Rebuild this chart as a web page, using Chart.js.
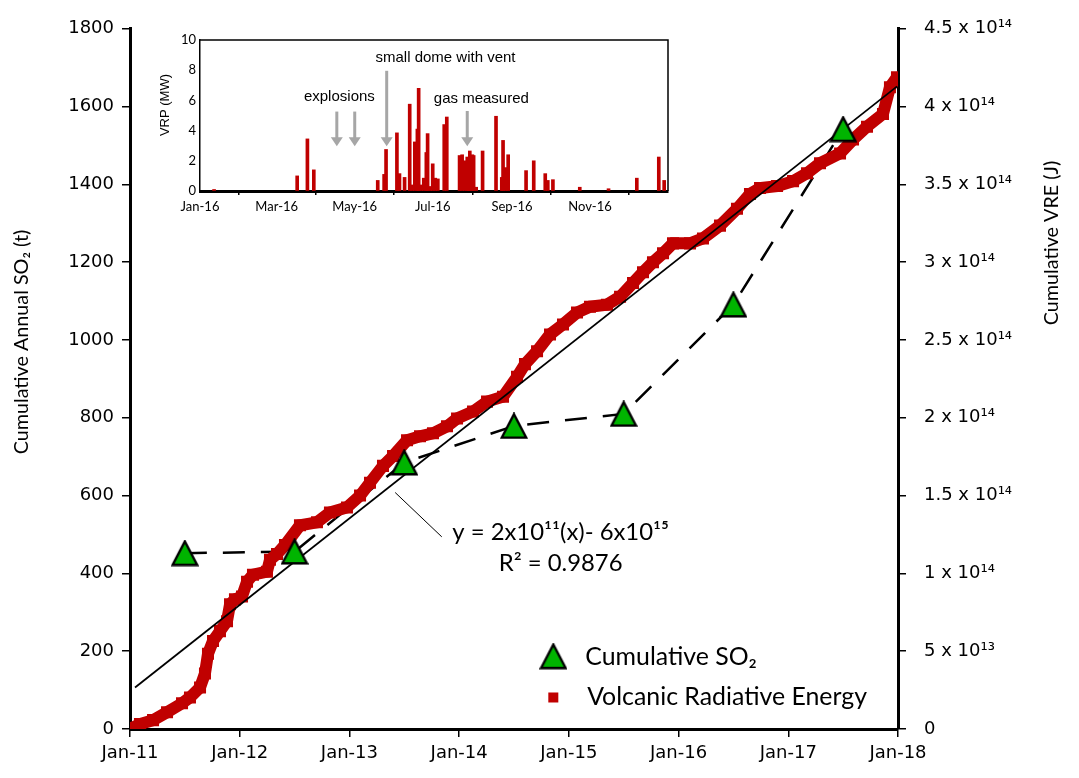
<!DOCTYPE html>
<html><head><meta charset="utf-8">
<script src="https://cdn.jsdelivr.net/npm/chart.js@4.4.1/dist/chart.umd.min.js"></script>
<style>
html,body{margin:0;padding:0;background:#fff;}
#wrap{position:relative;width:1079px;height:778px;overflow:hidden;}
#main{position:absolute;left:0;top:0;}
#inset{position:absolute;left:140px;top:25px;}
</style></head><body>
<div id="wrap"><canvas id="main" width="1079" height="778"></canvas><canvas id="inset" width="540" height="200"></canvas></div>
<script>
// ---- DATA (x = months since Jan-2011) ----
const so2Months = [6, 18, 30, 42, 54, 66, 78];
const so2Values = [452, 456, 685, 779, 810, 1091, 1542];           // t
const vreMonths = [0.22,1.09,2.52,4.05,5.69,6.56,7.66,8.20,8.53,9.08,9.84,10.61,10.94,11.48,12.25,12.80,13.45,14.98,15.31,16.08,16.95,18.59,20.45,21.87,23.73,25.16,26.25,27.67,28.77,30.30,31.72,33.14,34.67,35.77,37.52,39.05,40.80,42.33,43.20,44.52,45.94,47.36,48.89,50.31,52.17,53.60,55.02,56.11,57.20,58.30,59.39,61.25,62.67,64.53,66.39,67.81,68.91,70.77,72.52,74.05,75.47,77.66,79.08,80.61,82.36,83.12,83.89];
const vreValues = [0.006,0.032,0.057,0.108,0.165,0.203,0.267,0.356,0.483,0.566,0.629,0.693,0.801,0.833,0.852,0.947,0.992,1.011,1.087,1.125,1.182,1.309,1.328,1.392,1.424,1.500,1.583,1.691,1.754,1.856,1.881,1.900,1.945,1.996,2.040,2.104,2.136,2.263,2.345,2.428,2.536,2.600,2.676,2.714,2.727,2.778,2.867,2.936,3.000,3.057,3.121,3.121,3.153,3.235,3.343,3.439,3.477,3.489,3.521,3.572,3.636,3.699,3.788,3.871,3.953,4.125,4.189]; // x 10^14 J
const trendMonths = [0.55, 83.9];
const trendValues = [0.267, 4.13];   // x 10^14 J
const xTickLabels = ['Jan-11','Jan-12','Jan-13','Jan-14','Jan-15','Jan-16','Jan-17','Jan-18'];
const leftTickLabels = ['0','200','400','600','800','1000','1200','1400','1600','1800'];
const rightTickLabels = ['0','5 x 10¹³','1 x 10¹⁴','1.5 x 10¹⁴','2 x 10¹⁴','2.5 x 10¹⁴','3 x 10¹⁴','3.5 x 10¹⁴','4 x 10¹⁴','4.5 x 10¹⁴'];

// inset (x = day of 2016)
const vrpDays = [11,76,84,89,139,144,145.5,154,156,160,164,166,168,170,171,173,175,177,178,180,182,184,186,191,193,203,205,207,209,210,211,213,214,216,221,231.5,236,237,239,241,255,261,270,272,276,297,319.5,341.6,358.8,363];
const vrpValues = [0.1,1.0,3.45,1.4,0.7,1.1,2.75,3.85,1.15,0.9,5.75,0.4,3.25,4.1,6.8,0.4,0.85,2.55,3.8,0.3,1.8,0.85,0.8,4.4,4.9,2.35,2.4,2.0,2.25,0.3,2.65,2.4,2.35,0.25,2.65,4.95,0.9,3.35,1.55,2.4,1.35,2.0,1.15,0.7,0.75,0.25,0.15,0.85,2.25,0.7];
const insetTickDays = [0, 60, 121, 182, 244, 305];
const insetTickLabels = ['Jan-16','Mar-16','May-16','Jul-16','Sep-16','Nov-16'];
const arrowDays = [107, 121, 146, 209];
const arrowTops = [5.26, 5.26, 7.96, 5.3];

const RED = '#c00000', GREEN = '#00b400';
const TICKFONT = {family:'DejaVu Sans', size:18};
const CAL = "Lato, 'Noto Sans', sans-serif";

function makeTri(w, h, lw){
  const c = document.createElement('canvas'); c.width = w; c.height = h;
  const g = c.getContext('2d');
  const p = lw/2 + 0.5;
  g.beginPath(); g.moveTo(w/2, p); g.lineTo(w - p, h - p); g.lineTo(p, h - p); g.closePath();
  g.fillStyle = GREEN; g.fill(); g.lineWidth = lw; g.strokeStyle = '#000'; g.lineJoin = 'miter'; g.stroke();
  return c;
}
const tri = makeTri(28, 27, 2.4);

function fitFont(ctx, text, width, family){
  ctx.font = '100px ' + family;
  const w = ctx.measureText(text).width;
  return 100 * width / w;
}

const overlay = {
  id: 'overlay',
  afterDraw(chart){
    const ctx = chart.ctx, x = chart.scales.x, y = chart.scales.y;
    ctx.save();
    // pointer line
    ctx.strokeStyle = '#000'; ctx.lineWidth = 1;
    ctx.beginPath();
    ctx.moveTo(x.getPixelForValue(29.0), y.getPixelForValue(608));
    ctx.lineTo(x.getPixelForValue(34.1), y.getPixelForValue(494));
    ctx.stroke();
    // equation
    ctx.fillStyle = '#000'; ctx.textAlign = 'center'; ctx.textBaseline = 'middle';
    const eq1 = 'y = 2x10¹¹(x)- 6x10¹⁵', eq2 = 'R² = 0.9876';
    const fs = fitFont(ctx, eq2, 124, CAL);
    ctx.font = fs + 'px ' + CAL;
    ctx.fillText(eq1, x.getPixelForValue(47.1), y.getPixelForValue(506));
    ctx.fillText(eq2, x.getPixelForValue(47.1), y.getPixelForValue(427));
    // legend
    const lx = x.getPixelForValue(46.3);
    const ly1 = y.getPixelForValue(187), ly2 = y.getPixelForValue(81);
    ctx.drawImage(tri, lx - tri.width/2, ly1 - tri.height/2);
    ctx.fillStyle = RED; ctx.fillRect(lx - 5, ly2 - 5, 10, 10);
    ctx.fillStyle = '#000'; ctx.textAlign = 'left';
    const lf = fitFont(ctx, 'Volcanic Radiative Energy', 280, CAL);
    ctx.font = lf + 'px ' + CAL;
    ctx.fillText('Cumulative SO₂', x.getPixelForValue(49.8), ly1 + 1);
    ctx.fillText('Volcanic Radiative Energy', x.getPixelForValue(50.0), ly2 - 1);
    // axis titles
    ctx.textAlign = 'center';
    const t1 = 'Cumulative Annual SO₂ (t)', t2 = 'Cumulative VRE (J)';
    ctx.font = fitFont(ctx, t1, 225, CAL) + 'px ' + CAL;
    ctx.save(); ctx.translate(22, 342); ctx.rotate(-Math.PI/2); ctx.fillText(t1, 0, 0); ctx.restore();
    ctx.save(); ctx.translate(1052, 243); ctx.rotate(-Math.PI/2); ctx.fillText(t2, 0, 0); ctx.restore();
    ctx.restore();
  }
};

new Chart(document.getElementById('main'), {
  type: 'scatter',
  data: {
    datasets: [
      { label:'Cumulative SO₂', data: so2Months.map((m,i)=>({x:m,y:so2Values[i]})), yAxisID:'y',
        pointStyle: tri, pointRadius: 14, showLine:false },
      { label:'trend', data: trendMonths.map((m,i)=>({x:m,y:trendValues[i]})), yAxisID:'y2',
        showLine:true, borderColor:'#000', borderWidth:1.8, pointRadius:0 },
      { label:'Volcanic Radiative Energy', data: vreMonths.map((m,i)=>({x:m,y:vreValues[i]})), yAxisID:'y2',
        showLine:true, borderColor:RED, borderWidth:12, pointStyle:'rect', pointRadius:8.5,
        pointBackgroundColor:RED, pointBorderWidth:0, borderJoinStyle:'miter' },
      { label:'SO2 line', data: so2Months.map((m,i)=>({x:m,y:so2Values[i]})), yAxisID:'y',
        showLine:true, borderColor:'#000', borderWidth:2.5, borderDash:[22,16], pointRadius:0 }
    ]
  },
  options: {
    responsive:false, animation:false,
    layout:{padding:{top:21, left:0, right:0, bottom:0}},
    plugins:{legend:{display:false}, tooltip:{enabled:false}},
    scales:{
      x:{ type:'linear', min:0, max:84,
        ticks:{stepSize:12, color:'#000', font:TICKFONT, padding:6, maxRotation:0,
          callback:(v)=> xTickLabels[Math.round(v/12)]},
        grid:{display:true, drawOnChartArea:false, drawTicks:true, tickLength:8, color:'#000', lineWidth:1.5},
        border:{display:true, color:'#000', width:3},
        afterFit:(s)=>{ s.height = 49; } },
      y:{ type:'linear', position:'left', min:0, max:1800,
        ticks:{stepSize:200, color:'#000', font:TICKFONT, padding:8,
          callback:(v,i)=> leftTickLabels[i]},
        grid:{display:true, drawOnChartArea:false, drawTicks:true, tickLength:8, color:'#000', lineWidth:1.5},
        border:{display:true, color:'#000', width:3},
        afterFit:(s)=>{ s.width = 130; } },
      y2:{ type:'linear', position:'right', min:0, max:4.5,
        ticks:{stepSize:0.5, color:'#000', font:TICKFONT, padding:18,
          callback:(v,i)=> rightTickLabels[i]},
        grid:{display:true, drawOnChartArea:false, drawTicks:true, tickLength:8, color:'#000', lineWidth:1.5},
        border:{display:true, color:'#000', width:3},
        afterFit:(s)=>{ s.width = 181; } }
    }
  },
  plugins:[overlay]
});

// ---- INSET ----
const insetOverlay = {
  id:'insetOverlay',
  afterDraw(chart){
    const ctx = chart.ctx, x = chart.scales.x, y = chart.scales.y, a = chart.chartArea;
    ctx.save();
    ctx.strokeStyle = '#000'; ctx.lineWidth = 1.5;
    ctx.beginPath(); ctx.moveTo(a.left, a.top); ctx.lineTo(a.right, a.top); ctx.lineTo(a.right, a.bottom); ctx.stroke();
    // arrows
    ctx.strokeStyle = '#a6a6a6'; ctx.fillStyle = '#a6a6a6'; ctx.lineWidth = 3;
    arrowDays.forEach((d,i)=>{
      const px = x.getPixelForValue(d), top = y.getPixelForValue(arrowTops[i]), bot = y.getPixelForValue(2.96);
      ctx.beginPath(); ctx.moveTo(px, top); ctx.lineTo(px, bot - 7); ctx.stroke();
      ctx.beginPath(); ctx.moveTo(px - 6, bot - 9); ctx.lineTo(px + 6, bot - 9); ctx.lineTo(px, bot); ctx.closePath(); ctx.fill();
    });
    // labels
    ctx.fillStyle = '#000'; ctx.textAlign = 'center'; ctx.textBaseline = 'middle';
    ctx.font = "15px 'Liberation Sans', Arial, sans-serif";
    ctx.fillText('explosions', x.getPixelForValue(109), y.getPixelForValue(6.25));
    ctx.fillText('small dome with vent', x.getPixelForValue(192), y.getPixelForValue(8.8));
    ctx.fillText('gas measured', x.getPixelForValue(220), y.getPixelForValue(6.1));
    ctx.font = "13px 'Liberation Sans', Arial, sans-serif";
    ctx.save(); ctx.translate(25, 80); ctx.rotate(-Math.PI/2); ctx.fillText('VRP (MW)', 0, 0); ctx.restore();
    ctx.restore();
  }
};

new Chart(document.getElementById('inset'), {
  type:'bar',
  data:{ datasets:[{ data: vrpDays.map((d,i)=>({x:d,y:vrpValues[i]})), backgroundColor:RED, barThickness:3 }] },
  options:{
    responsive:false, animation:false,
    layout:{padding:{top:15, right:12, left:0, bottom:0}},
    plugins:{legend:{display:false}, tooltip:{enabled:false}},
    scales:{
      x:{ type:'linear', min:0, max:366, offset:false,
        afterBuildTicks:(s)=>{ s.ticks = insetTickDays.map(v=>({value:v})); },
        ticks:{color:'#000', font:{family:CAL, size:13}, padding:4, maxRotation:0, autoSkip:false,
          callback:(v,i)=> insetTickLabels[i]},
        grid:{display:true, drawOnChartArea:false, drawTicks:true, tickLength:4, color:'#000', lineWidth:1.5},
        border:{display:true, color:'#000', width:3},
        afterFit:(s)=>{ s.height = 34; } },
      y:{ min:0, max:10,
        ticks:{stepSize:2, color:'#000', font:{family:CAL, size:13}, padding:4},
        grid:{display:true, drawOnChartArea:false, drawTicks:false, color:'#000'},
        border:{display:true, color:'#000', width:1.5},
        afterFit:(s)=>{ s.width = 60; } }
    }
  },
  plugins:[insetOverlay]
});
</script>
</body></html>
